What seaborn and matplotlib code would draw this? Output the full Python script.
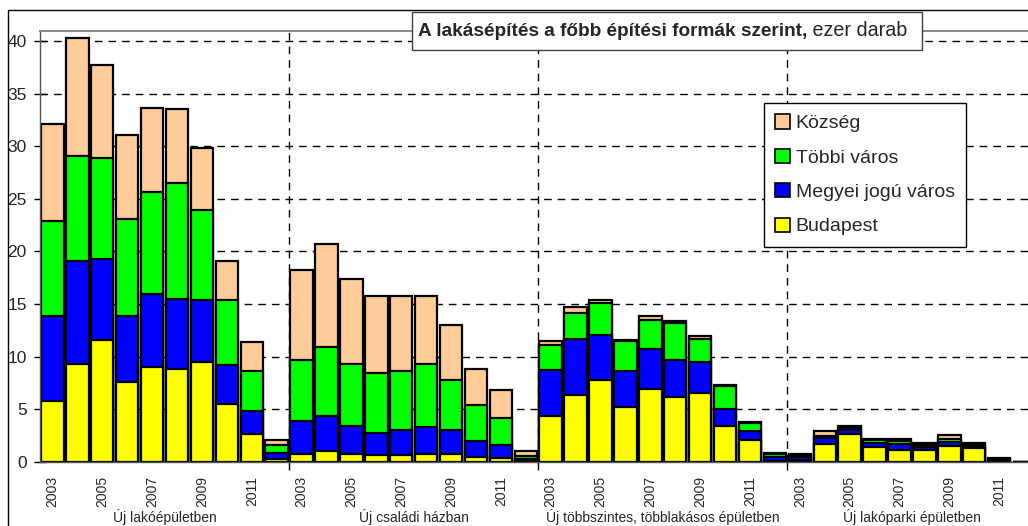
import numpy as np
import pandas as pd
import matplotlib
matplotlib.use("Agg")
import matplotlib.pyplot as plt
import matplotlib.transforms as mtransforms
from matplotlib.patches import Patch, Rectangle
import seaborn as sns

# ---------------- data ----------------
years = [2003, 2004, 2005, 2006, 2007, 2008, 2009, 2010, 2011, 2012]
groups = ["Új lakóépületben", "Új családi házban",
          "Új többszintes, többlakásos épületben", "Új lakóparki épületben"]
series = ["Budapest", "Megyei jogú város", "Többi város", "Község"]
colors = ["#FFFF00", "#0000FF", "#00FF00", "#FFCC99"]

# values in thousand dwellings, 10 years per group (4 groups)
budapest = [5.8, 9.3, 11.6, 7.6, 9.0, 8.8, 9.5, 5.5, 2.7, 0.3,
            0.8, 1.0, 0.8, 0.7, 0.7, 0.8, 0.8, 0.5, 0.4, 0.1,
            4.35, 6.35, 7.8, 5.2, 6.95, 6.2, 6.6, 3.4, 2.1, 0.1,
            0.2, 1.7, 2.7, 1.45, 1.1, 1.15, 1.55, 1.3, 0.1, 0.0]
megyei = [8.1, 9.8, 7.7, 6.3, 7.0, 6.7, 5.9, 3.7, 2.1, 0.6,
          3.1, 3.4, 2.6, 2.1, 2.3, 2.5, 2.2, 1.5, 1.2, 0.2,
          4.4, 5.3, 4.3, 3.4, 3.75, 3.45, 2.9, 1.65, 0.8, 0.35,
          0.3, 0.6, 0.35, 0.4, 0.6, 0.3, 0.35, 0.25, 0.1, 0.0]
tobbi = [9.0, 10.0, 9.6, 9.2, 9.7, 11.0, 8.5, 6.2, 3.8, 0.7,
         5.75, 6.5, 5.9, 5.65, 5.6, 6.0, 4.8, 3.4, 2.6, 0.3,
         2.4, 2.55, 3.0, 2.85, 2.8, 3.6, 2.2, 2.2, 0.85, 0.35,
         0.1, 0.2, 0.15, 0.2, 0.25, 0.2, 0.3, 0.2, 0.1, 0.0]
kozseg = [9.2, 11.2, 8.8, 8.0, 7.9, 7.0, 5.9, 3.7, 2.8, 0.5,
          8.55, 9.8, 8.1, 7.35, 7.2, 6.5, 5.2, 3.4, 2.6, 0.4,
          0.35, 0.5, 0.3, 0.15, 0.4, 0.15, 0.3, 0.05, 0.05, 0.05,
          0.2, 0.4, 0.2, 0.15, 0.25, 0.2, 0.35, 0.1, 0.05, 0.0]
label_years = [2003, 2005, 2007, 2009, 2011]

title_bold = "A lakásépítés a főbb építési formák szerint,"
title_normal = " ezer darab"

# ---------------- table ----------------
cats = [f"{g}|{y}" for g in range(len(groups)) for y in years]
vals = np.array([budapest, megyei, tobbi, kozseg])
cum = np.cumsum(vals, axis=0)
df = pd.DataFrame({"cat": cats})
for name, c in zip(series, cum):
    df[name] = c

# ---------------- figure ----------------
sns.set_theme(style="white")
regular = ["Liberation Sans", "DejaVu Sans"]
plt.rcParams["font.family"] = regular

W, H = 1028, 526
fig = plt.figure(figsize=(W / 100, H / 100), dpi=100)
ax_left, ax_right, ax_top, ax_bottom = 40, 1036.5, 31, 462
ax = fig.add_axes([ax_left / W, (H - ax_bottom) / H,
                   (ax_right - ax_left) / W, (ax_bottom - ax_top) / H])

for name, col in reversed(list(zip(series, colors))):
    sns.barplot(data=df, x="cat", y=name, order=cats, color=col,
                saturation=1, edgecolor="black", linewidth=1.6,
                width=0.9, errorbar=None, ax=ax)

ax.set_xlim(-0.5, len(cats) - 0.5)
ax.set_ylim(0, 40.95)
ax.set_xlabel("")
ax.set_ylabel("")

# y axis
ax.set_yticks(np.arange(0, 41, 5))
ax.set_yticklabels([str(v) for v in range(0, 41, 5)], fontsize=12.5)
ax.tick_params(axis="y", direction="inout", length=9, width=1, color="black", pad=5,
               left=True)
ax.yaxis.grid(True, linestyle=(0, (5.5, 4.3)), color="black", linewidth=1)

# x axis: labels on odd years, separators between groups
xt = [gi * 10 + years.index(y) for gi in range(len(groups)) for y in label_years]
ax.set_xticks(xt)
ax.set_xticklabels([str(y) for gi in range(len(groups)) for y in label_years],
                   rotation=90, fontsize=10)
ax.tick_params(axis="x", which="major", length=0, pad=10)
ax.set_xticks([9.5, 19.5, 29.5], minor=True)
ax.tick_params(axis="x", which="minor", direction="out", length=6, width=1,
               color="black", bottom=True)
ax.xaxis.grid(True, which="minor", linestyle=(0, (5.5, 4.3)), color="black", linewidth=1)
ax.xaxis.grid(False, which="major")
ax.set_axisbelow(True)

for s in ["top", "right"]:
    ax.spines[s].set_color("#8c8c8c")
    ax.spines[s].set_linewidth(1.5)
ax.spines["left"].set_color("#555555")
ax.spines["bottom"].set_color("#555555")
ax.spines["left"].set_linewidth(1)
ax.spines["bottom"].set_linewidth(1)

# group labels
trans = mtransforms.blended_transform_factory(ax.transData, fig.transFigure)
for gi, g in enumerate(groups):
    ax.text(gi * 10 + 4.5, (H - 517) / H, g, transform=trans, ha="center",
            va="center", fontsize=10)

# outer border
fig.add_artist(Rectangle((8 / W, -0.05), 1.1, (H - 10) / H + 0.05, transform=fig.transFigure,
                         fill=False, edgecolor="black", linewidth=1, zorder=10))

# title box
fig.add_artist(Rectangle((412 / W, (H - 50) / H), 510 / W, 38 / H,
                         transform=fig.transFigure, facecolor="white",
                         edgecolor="#404040", linewidth=1, zorder=5))
t1 = fig.text(418 / W, (H - 31) / H, title_bold, ha="left", va="center",
              fontsize=13.7, fontweight="bold", zorder=6)
fig.canvas.draw()
bb = t1.get_window_extent(renderer=fig.canvas.get_renderer())
fig.text(bb.x1 / W, (H - 31) / H, title_normal, ha="left", va="center",
         fontsize=14.2, zorder=6)

# legend
handles = [Patch(facecolor=c, edgecolor="black", linewidth=1.2)
           for c in reversed(colors)]
leg = fig.legend(handles, list(reversed(series)), loc="upper left",
                 bbox_to_anchor=(764 / W, (H - 103) / H), frameon=True,
                 fancybox=False, edgecolor="black", framealpha=1,
                 borderaxespad=0, handlelength=0.75,
                 handleheight=0.75, handletextpad=0.3, labelspacing=0.85,
                 borderpad=0.58, prop={"size": 14})
leg.get_frame().set_linewidth(1)
leg.set_zorder(7)

fig.savefig("out.png", dpi=100)
